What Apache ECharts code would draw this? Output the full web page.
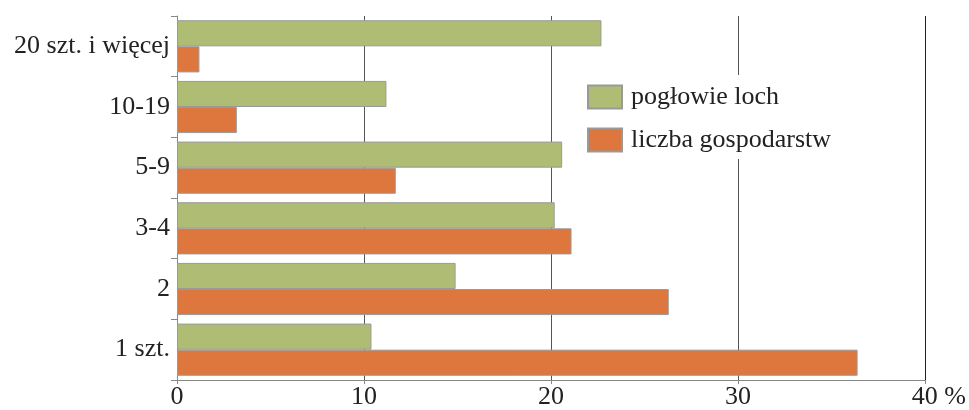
<!DOCTYPE html>
<html>
<head>
<meta charset="utf-8">
<script src="https://cdn.jsdelivr.net/npm/echarts@6/dist/echarts.min.js"></script>
<style>html,body{margin:0;padding:0;background:#fff}#c{width:969px;height:410px}</style>
</head>
<body>
<div id="c"></div>
<script>
var categories = ['1 szt.', '2', '3-4', '5-9', '10-19', '20 szt. i więcej'];
var poglowieLoch = [10.4, 14.9, 20.2, 20.6, 11.2, 22.7];
var liczbaGospodarstw = [36.4, 26.3, 21.1, 11.7, 3.2, 1.2];
var seriesNames = ['pogłowie loch', 'liczba gospodarstw'];
var xTickLabels = { 0: '0', 10: '10', 20: '20', 30: '30', 40: '40 %' };

var font = 'Liberation Serif';
var chart = echarts.init(document.getElementById('c'), null, { renderer: 'canvas' });
chart.setOption({
  animation: false,
  backgroundColor: '#fff',
  grid: { left: 177, right: 42, top: 16, bottom: 30, containLabel: false },
  legend: {
    data: seriesNames,
    orient: 'vertical',
    left: 577, top: 75,
    padding: [9, 12, 6, 10],
    backgroundColor: '#fff',
    itemWidth: 34, itemHeight: 23, itemGap: 17,
    textStyle: { fontFamily: font, fontSize: 26, color: '#222', padding: [0, 0, 0, 4] },
    icon: 'rect'
  },
  xAxis: {
    type: 'value', min: 0, max: 40, interval: 10,
    axisLine: { show: true, lineStyle: { color: '#888', width: 1 } },
    axisTick: { show: true, length: 4, lineStyle: { color: '#888' } },
    splitLine: { show: true, lineStyle: { color: ['#555', '#555', '#555', '#555', '#222'], width: 1 } },
    axisLabel: {
      fontFamily: font, fontSize: 26, color: '#222', margin: 4,
      formatter: function (v) {
        var t = xTickLabels[v];
        if (t === undefined) return '';
        if (t.indexOf('%') >= 0) return '{pad|}{t|' + t + '}';
        return t;
      },
      rich: {
        pad: { width: 28 },
        t: { fontFamily: font, fontSize: 26, color: '#222' }
      }
    }
  },
  yAxis: {
    type: 'category', data: categories,
    axisLine: { show: true, lineStyle: { color: '#888', width: 1 } },
    axisTick: { show: true, length: 6, inside: false, lineStyle: { color: '#888' } },
    axisLabel: { fontFamily: font, fontSize: 26, color: '#222', margin: 7 },
    splitLine: { show: false }
  },
  series: [
    {
      name: seriesNames[0], type: 'bar', data: poglowieLoch,
      barGap: '0%', barCategoryGap: '14%',
      itemStyle: { color: '#AFBD74', borderColor: '#999', borderWidth: 1 }
    },
    {
      name: seriesNames[1], type: 'bar', data: liczbaGospodarstw,
      barGap: '0%', barCategoryGap: '14%',
      itemStyle: { color: '#DE773D', borderColor: '#999', borderWidth: 1 }
    }
  ]
});
</script>
</body>
</html>
